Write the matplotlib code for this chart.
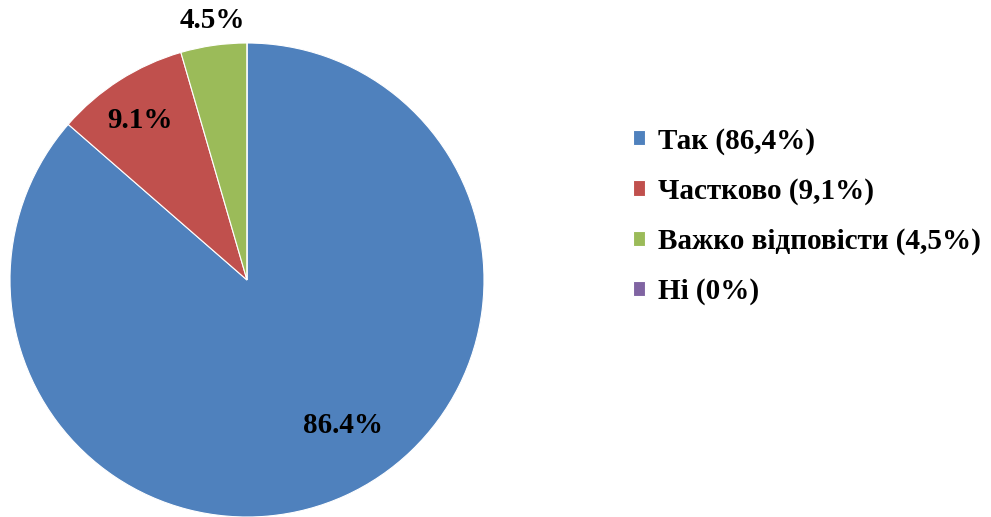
import matplotlib.pyplot as plt

labels = ['Так (86,4%)', 'Частково (9,1%)', 'Важко відповісти (4,5%)', 'Ні (0%)']
values = [86.4, 9.1, 4.5, 0.0]
colors = ['#4F81BD', '#C0504D', '#9BBB59', '#8064A2']
pct_text = ['86.4%', '9.1%', '4.5%']
# label positions in pie radius units
pct_pos = [(0.405, -0.612), (-0.451, 0.675), (-0.148, 1.097)]

plt.rcParams['font.family'] = ['Liberation Serif', 'DejaVu Serif']
plt.rcParams['font.weight'] = 'bold'

fig = plt.figure(figsize=(9.91, 5.17), dpi=100)
ax = fig.add_axes([10 / 991, 0, 474 / 991, 474 / 517])

wedges, _ = ax.pie(values, colors=colors, startangle=90, counterclock=False,
                   radius=1, wedgeprops=dict(edgecolor='white', linewidth=0.8))
ax.set_xlim(-1, 1)
ax.set_ylim(-1, 1)
ax.set_aspect('equal')

for t, (x, y) in zip(pct_text, pct_pos):
    ax.text(x, y, t, ha='center', va='center', fontsize=21, fontweight='bold', clip_on=False)

fig.legend(wedges, labels, loc='center left', bbox_to_anchor=(0.612, 0.582),
           frameon=False, handlelength=0.42, handleheight=0.42,
           handletextpad=0.45, labelspacing=0.78, prop={'weight': 'bold', 'size': 21})

fig.savefig('out.png', dpi=100)
